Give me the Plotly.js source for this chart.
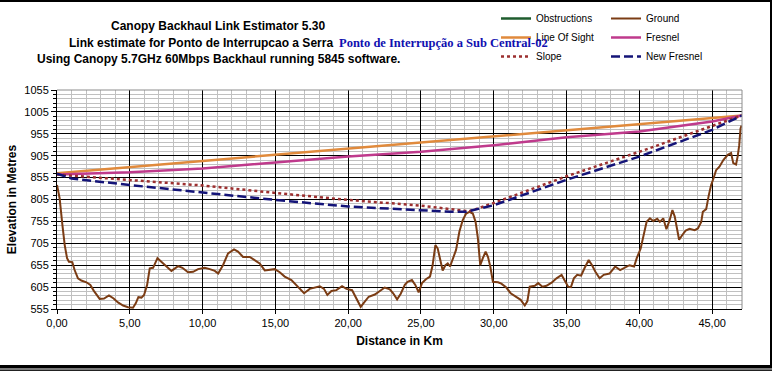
<!DOCTYPE html>
<html><head><meta charset="utf-8">
<script src="https://cdn.plot.ly/plotly-3.0.1.min.js"></script>
<style>
html,body{margin:0;padding:0;background:#fff;}
#wrap{position:relative;width:772px;height:371px;overflow:hidden;background:#fff;}
#chart{position:absolute;left:0;top:0;width:772px;height:371px;}
#frame{position:absolute;left:0;top:0;width:772px;height:368px;box-sizing:border-box;border-top:2px solid #000;border-right:2px solid #000;border-bottom:3px solid #000;pointer-events:none;}
#frame2{position:absolute;left:0;top:368px;width:772px;height:3px;background:#7a7a7a;border-bottom:1px solid #222;box-sizing:border-box;pointer-events:none;}
</style></head>
<body>
<div id="wrap"><div id="chart"></div><div id="frame"></div><div id="frame2"></div></div>
<script>
// ---- data ----
const groundKm = [0,0.18,0.37,0.53,0.69,0.82,1.05,1.21,1.44,1.67,2.02,2.29,2.52,2.93,3.23,3.57,3.89,4.19,4.54,4.88,5.22,5.41,5.59,5.80,5.98,6.19,6.37,6.6,6.9,7.17,7.47,7.86,8.32,8.61,9.0,9.35,9.69,10.15,10.49,10.84,11.07,11.4,11.75,12.16,12.43,12.78,13.24,13.58,13.92,14.27,14.61,14.95,15.3,15.64,16.1,16.44,16.67,16.97,17.36,17.7,18.05,18.34,18.57,18.85,19.19,19.58,19.88,20.27,20.57,20.86,21.14,21.41,21.83,22.17,22.51,22.86,23.09,23.36,23.61,23.89,24.08,24.38,24.61,24.84,25.07,25.34,25.62,25.8,25.99,26.15,26.31,26.49,26.68,26.84,27.0,27.18,27.41,27.64,27.87,28.1,28.33,28.56,28.75,28.91,29.07,29.25,29.44,29.6,29.76,29.94,30.29,30.52,30.86,31.16,31.55,31.85,32.13,32.31,32.47,32.82,33.05,33.34,33.62,33.97,34.31,34.66,34.89,35.11,35.3,35.5,35.73,36.0,36.23,36.52,36.75,36.98,37.27,37.55,37.95,38.34,38.68,39.02,39.32,39.64,39.82,40.09,40.32,40.5,40.73,40.95,41.23,41.41,41.64,41.86,42.09,42.27,42.43,42.59,42.73,42.95,43.18,43.45,43.8,44.02,44.25,44.36,44.59,44.77,44.93,45.09,45.27,45.5,45.77,46.07,46.3,46.45,46.64,46.75,46.86,46.95,47.02];
const groundElev = [838,808,747,701,671,663,662,644,625,620,616,610,597,578,579,586,579,570,563,559,558,568,582,581,587,610,648,649,671,663,652,642,653,649,639,640,646,649,646,642,636,655,682,691,686,674,674,667,659,643,644,646,639,629,621,610,601,591,601,604,607,601,587,596,598,607,601,598,579,560,572,583,588,597,604,600,591,577,590,610,617,621,610,593,614,623,629,655,701,693,671,643,655,659,652,671,690,732,758,773,777,773,754,716,655,671,686,674,652,617,616,613,604,591,583,576,563,573,606,608,614,606,608,615,625,633,619,606,605,625,633,631,648,667,655,640,625,633,636,652,644,649,655,652,671,693,732,754,762,756,761,754,762,737,759,781,766,739,713,724,734,738,735,739,754,777,783,815,838,853,872,880,895,907,911,888,885,903,929,967,974];

const losKm = [0, 47.05];
const losElev = [865, 997];

const fresnelKm = [0, 5, 10, 15, 20, 25, 30, 35, 40, 45, 47.05];
const fresnelElev = [862, 867, 876, 889, 903, 914, 929, 947, 960, 983, 997];

const slopeKm = [0, 5, 10, 15, 20, 25, 28.3, 30, 35, 40, 45, 47.05];
const slopeElev = [862, 849, 837, 820, 804, 791, 778, 797, 858, 914, 974, 997];

const newFresnelKm = [0, 1, 5, 10, 15, 20, 25, 27, 28.1, 30, 35, 40, 45, 47.05];
const newFresnelElev = [864, 853, 838, 821, 804, 789, 781, 777, 777, 792, 850, 903, 964, 997];

// the reference lists Obstructions in the legend but draws none
const obstructionsKm = [null];
const obstructionsElev = [null];

const titleLines = ['Canopy Backhaul Link Estimator 5.30',
                    'Link estimate for Ponto de Interrupcao a Serra',
                    'Using Canopy 5.7GHz 60Mbps Backhaul running 5845 software.'];
const overlayText = 'Ponto de Interrupção a Sub Central-02';
const xTitle = 'Distance in Km';
const yTitle = 'Elevation in Metres';

// ---- traces ----
const traces = [
  {name:'Obstructions', x:obstructionsKm, y:obstructionsElev, mode:'lines', line:{color:'#1f5c2e', width:2.5}, legend:'legend'},
  {name:'Ground', x:groundKm, y:groundElev, mode:'lines', line:{color:'#7b3c14', width:2}, legend:'legend2'},
  {name:'Line Of Sight', x:losKm, y:losElev, mode:'lines', line:{color:'#e08a3c', width:2.5}, legend:'legend'},
  {name:'Fresnel', x:fresnelKm, y:fresnelElev, mode:'lines', line:{color:'#bf3a8c', width:2.5}, legend:'legend2'},
  {name:'Slope', x:slopeKm, y:slopeElev, mode:'lines', line:{color:'#9c2f2f', width:2.5, dash:'3px,3px'}, legend:'legend'},
  {name:'New Fresnel', x:newFresnelKm, y:newFresnelElev, mode:'lines', line:{color:'#141478', width:2.5, dash:'9px,4px'}, legend:'legend2'}
];

const L = 57, R = 742, T = 90, B = 309;
const px = v => (v - L) / (R - L);
const py = v => (B - v) / (B - T);

const legendCommon = {
  orientation:'v', bgcolor:'rgba(0,0,0,0)', borderwidth:0,
  font:{family:'Liberation Sans, Arial, sans-serif', size:10, color:'#000'},
  xanchor:'left', yanchor:'top', yref:'paper', xref:'paper', itemwidth:30, tracegroupgap:0
};

const layout = {
  width:772, height:371,
  margin:{l:L, r:772-R, t:T, b:371-B, pad:0, autoexpand:false},
  paper_bgcolor:'#fff', plot_bgcolor:'#fff',
  separators:',.',
  font:{family:'Liberation Sans, Arial, sans-serif', size:11, color:'#000'},
  showlegend:true,
  legend:Object.assign({}, legendCommon, {x:px(496), y:py(4)}),
  legend2:Object.assign({}, legendCommon, {x:px(606), y:py(4)}),
  xaxis:{
    range:[0,47.05], tick0:0, dtick:5, tickformat:'.2f',
    ticks:'outside', ticklen:4, tickcolor:'#000',
    showline:true, linecolor:'#000', linewidth:1,
    showgrid:true, gridcolor:'#000', gridwidth:1, zeroline:false,
    minor:{dtick:1, showgrid:true, gridcolor:'#c0c0c0', gridwidth:1},
    tickfont:{size:11},
    title:{text:'<b>'+xTitle+'</b>', font:{size:12}, standoff:8}
  },
  yaxis:{
    range:[555,1055], tick0:555, dtick:50,
    ticks:'outside', ticklen:5, tickcolor:'#000',
    showline:true, linecolor:'#000', linewidth:1,
    showgrid:true, gridcolor:'#000', gridwidth:1, zeroline:false,
    minor:{dtick:10, tick0:555, showgrid:true, gridcolor:'#c0c0c0', gridwidth:1, ticks:'outside', ticklen:3, tickcolor:'#000'},
    tickfont:{size:11},
    title:{text:'<b>'+yTitle+'</b>', font:{size:12}, standoff:5}
  },
  shapes:[
    {type:'line', xref:'paper', yref:'paper', x0:0, x1:1, y0:1, y1:1, line:{color:'#8c8c8c', width:1}},
    {type:'line', xref:'paper', yref:'paper', x0:1, x1:1, y0:0, y1:1, line:{color:'#8c8c8c', width:1}}
  ],
  annotations:[
    {text:'<b>'+titleLines[0]+'</b>', xref:'paper', yref:'paper', x:px(218), y:py(26), xanchor:'center', yanchor:'middle', showarrow:false, font:{size:12}},
    {text:'<b>'+titleLines[1]+'</b>', xref:'paper', yref:'paper', x:px(335), y:py(43), xanchor:'right', yanchor:'middle', showarrow:false, font:{size:12}},
    {text:'<b>'+titleLines[2]+'</b>', xref:'paper', yref:'paper', x:px(218.5), y:py(59), xanchor:'center', yanchor:'middle', showarrow:false, font:{size:12}},
    {text:'<b>'+overlayText+'</b>', xref:'paper', yref:'paper', x:px(337), y:py(43), xanchor:'left', yanchor:'middle', showarrow:false, font:{family:'Liberation Serif, Times New Roman, serif', size:12.5, color:'#1010b0'}}
  ]
};

Plotly.newPlot('chart', traces, layout, {displayModeBar:false, staticPlot:true});
</script>
</body></html>
